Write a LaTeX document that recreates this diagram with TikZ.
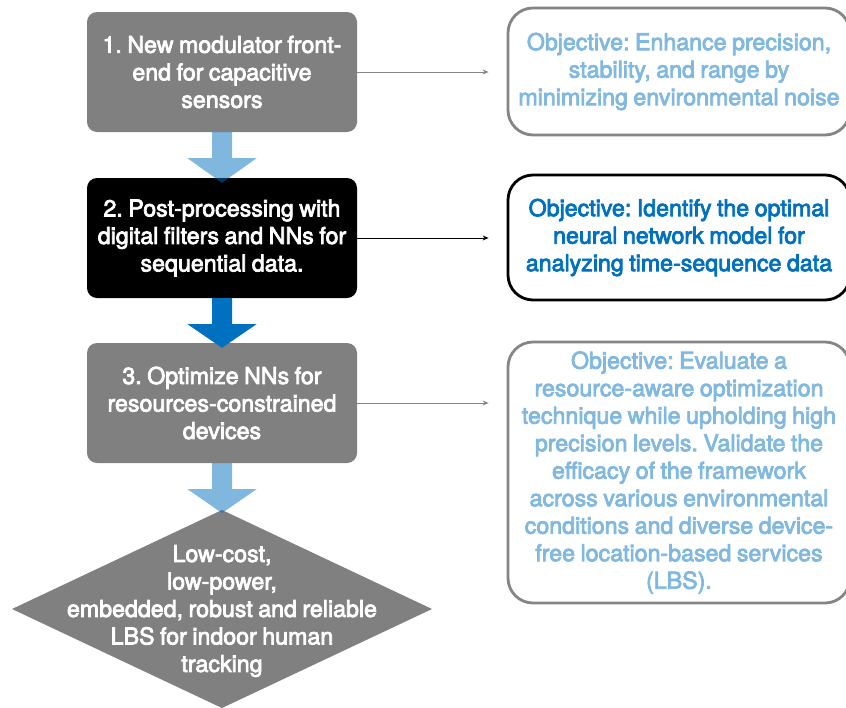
\documentclass[tikz,border=0pt]{standalone}
\usepackage{fontspec}
\usetikzlibrary{arrows.meta,calc}
\newfontfamily\labelfont{TeX Gyre Heros}[FakeBold=3.2, WordSpace=0.85]
\definecolor{boxgray}{HTML}{808080}
\definecolor{flowblue}{HTML}{0070C0}
\definecolor{paleblue}{HTML}{80B8E0}
\definecolor{edgegray}{HTML}{858585}

% block arrow from the bottom of one step to the top of the next
\newcommand\flowblock[4]{%
  \fill[#1] ([xshift=-10pt]#2.south) -- ([xshift=-10pt,yshift=-26pt]#2.south)
    -- ([xshift=-34.5pt,yshift=-26pt]#2.south) -- ([yshift=-#4]#3)
    -- ([xshift=34.5pt,yshift=-26pt]#2.south) -- ([xshift=10pt,yshift=-26pt]#2.south)
    -- ([xshift=10pt]#2.south) -- cycle;}

\begin{document}
\begin{tikzpicture}[x=1pt,y=-1pt,
  every node/.style={font=\labelfont\fontsize{23.2}{27.5}\selectfont\frenchspacing, align=center, inner sep=0pt},
  stepbox/.style={rounded corners=10pt, minimum width=270pt, minimum height=120pt, text=white},
  goalbox/.style={rounded corners=25pt, minimum width=342pt, line width=2.8pt, fill=white},
  sidearrow/.style={line width=0.9pt, -{Stealth[length=6pt,width=5pt]}, shorten >=18pt},
  softarrow/.style={fill=flowblue, fill opacity=0.5},
  hardarrow/.style={fill=flowblue}]
\useasboundingbox (0,0) rectangle (846,707);
\fill[white] (0,0) rectangle (846,707);

% process steps
\node[stepbox, fill=boxgray] (b1) at (222,72) {1. New modulator front-\\end for capacitive\\sensors};
\node[stepbox, fill=black] (b2) at (222,238) {2. Post-processing with\\digital filters and NNs for\\sequential data.};
\node[stepbox, fill=boxgray] (b3) at (222,403) {3. Optimize NNs for\\resources-constrained\\devices};

% outcome diamond
\coordinate (gtop) at (222,510);
\coordinate (gright) at (432,609);
\coordinate (gbottom) at (222,708);
\coordinate (gleft) at (12,609);
\fill[boxgray] (gtop) -- (gright) -- (gbottom) -- (gleft) -- cycle;
\node[text=white] (goal) at (222,611) {Low-cost,\\low-power,\\embedded, robust and reliable\\LBS for indoor human\\tracking};

% objectives
\node[goalbox, draw=edgegray, minimum height=127pt, text=paleblue] (r1) at (679,71.5)
  {Objective: Enhance precision,\\stability, and range by\\minimizing environmental noise};
\node[goalbox, draw=black, minimum height=125pt, text=flowblue] (r2) at (679,237.5)
  {Objective: Identify the optimal\\neural network model for\\analyzing time-sequence data};
\node[goalbox, draw=edgegray, minimum height=261pt, text=paleblue] (r3) at (679,472.5)
  {Objective: Evaluate a\\resource-aware optimization\\technique while upholding high\\precision levels. Validate the\\efficacy of the framework\\across various environmental\\conditions and diverse device-\\free location-based services\\(LBS).};

% flow between steps
\flowblock{softarrow}{b1}{b2.north}{5pt}
\flowblock{hardarrow}{b2}{b3.north}{5pt}
\flowblock{softarrow}{b3}{gtop}{3pt}

% links to objectives
\draw[sidearrow, edgegray] (b1.east) -- (b1.east -| r1.west);
\draw[sidearrow, black] (b2.east) -- (b2.east -| r2.west);
\draw[sidearrow, edgegray] (b3.east) -- (b3.east -| r3.west);
\end{tikzpicture}
\end{document}
